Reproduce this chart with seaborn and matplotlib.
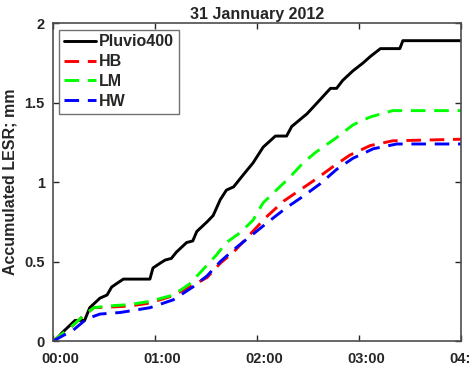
import numpy as np
import pandas as pd
import seaborn as sns
import matplotlib.pyplot as plt
import matplotlib.transforms as mtransforms

# ------------------- Data -------------------
# time in hours after 00:00 UTC, accumulated LESR in mm
pluvio_t = [0.0, 0.02, 0.085, 0.167, 0.216, 0.31, 0.36, 0.46, 0.53, 0.575, 0.62, 0.69,
            0.95, 0.98, 1.05, 1.10, 1.16, 1.21, 1.31, 1.37, 1.41, 1.51, 1.57, 1.64,
            1.70, 1.77, 1.87, 1.96, 2.06, 2.18, 2.29, 2.34, 2.49, 2.62, 2.72, 2.78,
            2.84, 2.94, 3.04, 3.11, 3.21, 3.40, 3.43, 4.0]
pluvio_v = [0.0, 0.0, 0.05, 0.10, 0.13, 0.13, 0.21, 0.27, 0.29, 0.34, 0.36, 0.39,
            0.39, 0.46, 0.49, 0.51, 0.52, 0.56, 0.62, 0.63, 0.69, 0.75, 0.79, 0.89,
            0.95, 0.97, 1.05, 1.12, 1.22, 1.29, 1.29, 1.35, 1.43, 1.52, 1.59, 1.59,
            1.64, 1.70, 1.75, 1.79, 1.84, 1.84, 1.89, 1.89]

lm_t = [0.0, 0.18, 0.30, 0.40, 0.53, 0.75, 0.95, 1.18, 1.34, 1.47, 1.60, 1.70, 1.83,
        1.96, 2.06, 2.19, 2.32, 2.45, 2.58, 2.78, 2.94, 3.11, 3.33, 4.0]
lm_v = [0.0, 0.09, 0.16, 0.21, 0.22, 0.23, 0.25, 0.29, 0.36, 0.45, 0.54, 0.62, 0.68,
        0.76, 0.87, 0.95, 1.03, 1.12, 1.19, 1.28, 1.36, 1.41, 1.45, 1.45]

hb_t = [0.0, 0.18, 0.30, 0.40, 0.75, 0.95, 1.15, 1.31, 1.51, 1.64, 1.77, 2.09, 2.26,
        2.42, 2.58, 2.75, 2.91, 3.11, 3.33, 4.0]
hb_v = [0.0, 0.09, 0.16, 0.21, 0.22, 0.24, 0.28, 0.33, 0.40, 0.49, 0.56, 0.78, 0.88,
        0.95, 1.02, 1.10, 1.17, 1.23, 1.26, 1.27]

hw_t = [0.0, 0.20, 0.33, 0.46, 0.66, 0.95, 1.18, 1.37, 1.51, 1.64, 1.80, 2.13, 2.29,
        2.45, 2.62, 2.78, 2.94, 3.14, 3.37, 4.0]
hw_v = [0.0, 0.07, 0.14, 0.17, 0.18, 0.21, 0.26, 0.34, 0.41, 0.50, 0.59, 0.76, 0.84,
        0.91, 0.99, 1.08, 1.15, 1.21, 1.24, 1.24]

x_ticks = [0, 1, 2, 3, 4]
x_labels = ['00:00', '01:00', '02:00', '03:00', '04:00']
y_ticks = [0, 0.5, 1, 1.5, 2]
y_labels = ['0', '0.5', '1', '1.5', '2']

series = ['Pluvio400', 'HB', 'LM', 'HW']
colors = {'Pluvio400': 'black', 'HB': 'red', 'LM': '#00ff00', 'HW': 'blue'}

df = pd.concat([
    pd.DataFrame({'t': pluvio_t, 'v': pluvio_v, 'src': 'Pluvio400'}),
    pd.DataFrame({'t': hb_t, 'v': hb_v, 'src': 'HB'}),
    pd.DataFrame({'t': lm_t, 'v': lm_v, 'src': 'LM'}),
    pd.DataFrame({'t': hw_t, 'v': hw_v, 'src': 'HW'}),
])

# ------------------- Plot -------------------
sns.set_style('white')
plt.rcParams['font.family'] = ['Liberation Sans', 'DejaVu Sans']
plt.rcParams['font.weight'] = 'bold'

fig = plt.figure(figsize=(4.69, 3.74), dpi=100)
ax = fig.add_axes([0.113, 0.088, 0.870, 0.850])

for name in series:
    sub = df[df['src'] == name]
    ls = '-' if name == 'Pluvio400' else (0, (5, 3))
    sns.lineplot(data=sub, x='t', y='v', color=colors[name], lw=2.1,
                 linestyle=ls, label=name, ax=ax, sort=False)

ax.set_xlim(0, 4)
ax.set_ylim(0, 2)
ax.set_xticks(x_ticks)
ax.set_xticklabels(x_labels, fontsize=10.5, fontweight='bold')
ax.set_yticks(y_ticks)
ax.set_yticklabels(y_labels, fontsize=10.5, fontweight='bold')
ax.tick_params(direction='in', length=4, width=1, colors='#262626',
               top=True, right=True, bottom=True, left=True)
ax.tick_params(axis='x', pad=8)
ax.tick_params(axis='y', pad=6)
for s in ax.spines.values():
    s.set_color('#4d4d4d')
    s.set_linewidth(1.2)

# x tick labels sit slightly right of their ticks in the reference
shift = mtransforms.ScaledTranslation(7 / 100, 0, fig.dpi_scale_trans)
for lab in ax.get_xticklabels():
    lab.set_transform(lab.get_transform() + shift)

ax.set_title('31 Jannuary 2012', fontsize=11.5, fontweight='bold', pad=3)
ax.set_ylabel('Accumulated LESR; mm', fontsize=11.5, fontweight='bold', labelpad=5)
ax.set_xlabel('UTC; h', fontsize=11.5, fontweight='bold', labelpad=5)

leg = ax.legend(loc='upper left', fontsize=11.5, frameon=True, fancybox=False,
                handlelength=2.0, borderaxespad=0.4, labelspacing=0.3,
                handletextpad=0.2, borderpad=0.3)
leg.get_frame().set_edgecolor('#4d4d4d')
leg.get_frame().set_linewidth(1.0)
for t in leg.get_texts():
    t.set_fontweight('bold')

fig.savefig('out.png', dpi=100)
